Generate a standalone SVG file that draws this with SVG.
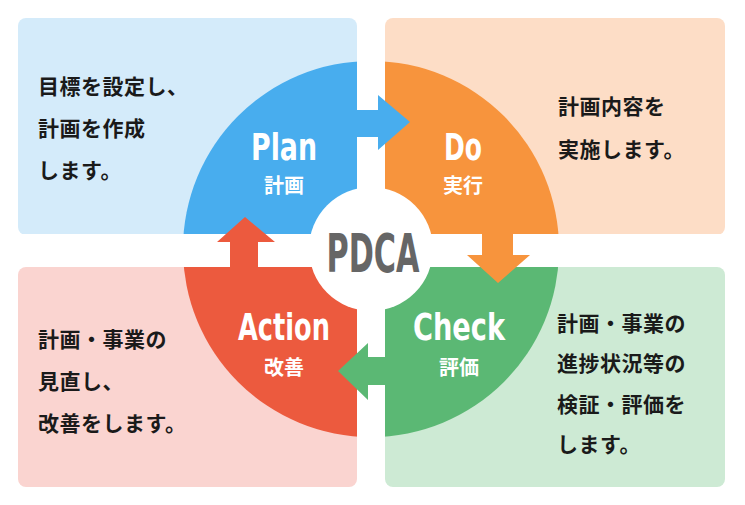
<svg xmlns="http://www.w3.org/2000/svg" width="745" height="505" viewBox="0 0 745 505">
<style>
.t{font-family:"Noto Sans CJK JP","Noto Sans",sans-serif;font-size:21px;font-weight:bold;fill:#1a1a1a;letter-spacing:0.5px}
.h{font-family:"DejaVu Sans Condensed","DejaVu Sans",sans-serif;font-weight:bold;fill:#fff;text-anchor:middle}
.j{font-family:"Noto Sans CJK JP",sans-serif;font-weight:bold;font-size:20px;fill:#fff;text-anchor:middle}
</style>
<rect width="745" height="505" fill="#fff"/>
<g id="panels">
<rect x="18" y="18" width="339" height="217" rx="8" fill="#D4EBFA"/>
<rect x="385" y="18" width="340" height="217" rx="8" fill="#FDDDC6"/>
<rect x="18" y="267" width="339" height="220" rx="8" fill="#FAD4D0"/>
<rect x="385" y="267" width="340" height="220" rx="8" fill="#CDEAD4"/>
</g>
<g id="plan"><path d="M371,249 L183,249 A188,188 0 0 1 371,61 Z" fill="#48ADEE"/></g>
<g id="do"><path d="M371,249 L371,61 A188,188 0 0 1 559,249 Z" fill="#F7943D"/></g>
<g id="check"><path d="M371,249 L559,249 A188,188 0 0 1 371,437 Z" fill="#5BB874"/></g>
<g id="action"><path d="M371,249 L371,437 A188,188 0 0 1 183,249 Z" fill="#EC5A3E"/></g>
<rect x="357" y="0" width="28" height="505" fill="#fff"/>
<rect x="0" y="234" width="745" height="33" fill="#fff"/>
<circle cx="371" cy="249" r="62" fill="#fff"/>
<g id="connectors">
<path d="M350,110 L378,110 L378,95 L410,122 L378,150 L378,137 L350,137 Z" fill="#48ADEE"/>
<path d="M482,228 L482,255 L467,255 L498,283 L530,255 L513,255 L513,228 Z" fill="#F7943D"/>
<path d="M392,357 L368,357 L368,343 L338,371 L368,400 L368,385 L392,385 Z" fill="#5BB874"/>
<path d="M230,270 L230,242 L217,242 L245,217 L275,242 L258,242 L258,270 Z" fill="#EC5A3E"/>
</g>
<g id="labels">
<text class="h" x="284" y="160" font-size="38" textLength="66" lengthAdjust="spacingAndGlyphs">Plan</text>
<text class="j" x="284" y="193">計画</text>
<text class="h" x="463" y="160" font-size="38" textLength="38" lengthAdjust="spacingAndGlyphs">Do</text>
<text class="j" x="463" y="193">実行</text>
<text class="h" x="284" y="340" font-size="38" textLength="92" lengthAdjust="spacingAndGlyphs">Action</text>
<text class="j" x="284" y="375">改善</text>
<text class="h" x="459" y="340" font-size="38" textLength="92" lengthAdjust="spacingAndGlyphs">Check</text>
<text class="j" x="459" y="375">評価</text>
<text class="h" x="373" y="272" font-size="54" style="fill:#666" textLength="93" lengthAdjust="spacingAndGlyphs">PDCA</text>
</g>
<g id="texts">
<text class="t" x="38" y="94">目標を設定し、</text>
<text class="t" x="38" y="136">計画を作成</text>
<text class="t" x="38" y="178">します。</text>
<text class="t" x="558" y="114">計画内容を</text>
<text class="t" x="558" y="157">実施します。</text>
<text class="t" x="38" y="347">計画・事業の</text>
<text class="t" x="38" y="389">見直し、</text>
<text class="t" x="38" y="431">改善をします。</text>
<text class="t" x="557" y="331">計画・事業の</text>
<text class="t" x="557" y="371">進捗状況等の</text>
<text class="t" x="557" y="412">検証・評価を</text>
<text class="t" x="557" y="452">します。</text>
</g>
</svg>
